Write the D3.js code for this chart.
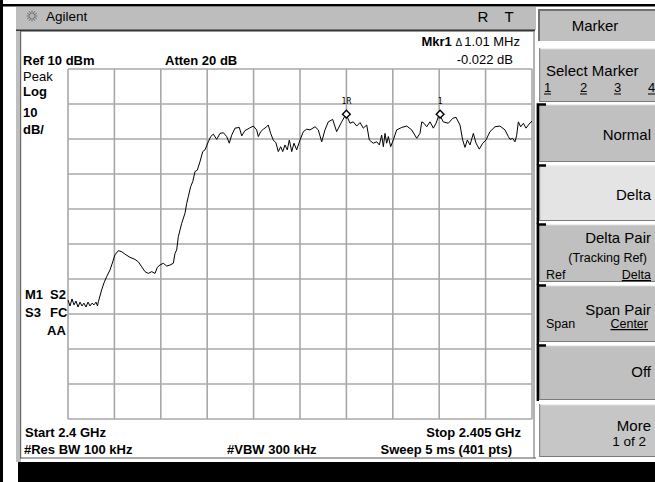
<!DOCTYPE html>
<html>
<head>
<meta charset="utf-8">
<script src="https://cdn.jsdelivr.net/npm/d3@7"></script>
<style>
body { margin: 0; background: #fff; }
text { font-family: "Liberation Sans", Arial, sans-serif; fill: #000; }
</style>
</head>
<body>
<script>
// trace: offset from start (kHz) and level (dBm)
const freqKHz = [0,22,43,65,86,108,129,151,172,194,216,237,259,280,302,318,
  327,363,388,417,453,482,506,542,579,614,668,722,758,794,830,865,902,938,962,991,1027,1064,1099,1135,
  1153,1171,1189,1207,1225,1261,1279,1296,1322,1344,1369,1393,1422,1452,1476,1512,1538,1566,1602,1638,
  1674,1710,1738,1764,1800,1846,1872,1907,1954,1997,2033,2051,2077,2105,2141,2158,2184,2212,2241,2266,
  2292,2314,2338,2363,2385,2411,2435,2464,2500,2536,2572,2608,2662,2697,2734,2769,2805,2852,2895,2949,
  2996,3039,3074,3111,3147,3182,3219,3247,3290,3327,3355,3380,3398,3416,3434,3452,3477,3505,3542,3596,
  3650,3704,3758,3793,3812,3836,3865,3901,3937,3966,4001,4044,4098,4146,4181,4224,4253,4278,4303,4332,
  4368,4397,4432,4469,4504,4547,4601,4655,4709,4745,4763,4792,4817,4835,4853,4878,4907,4936,4961,4989,5000]
const levelDbm = [-56.0,-57.7,-55.7,-57.4,-56.3,-58.0,-56.6,-57.7,-56.9,-58.0,-56.6,-57.7,-56.9,-57.4,-56.6,-57.7,
  -56.5,-53.1,-51.1,-49.3,-47.4,-45.1,-43.1,-41.9,-42.2,-42.9,-43.8,-44.4,-45.1,-46.5,-47.9,-48.4,-47.9,-48.4,-46.7,-46.0,-45.5,-46.3,-46.0,-45.5,
  -42.7,-41.7,-37.9,-36.0,-34.1,-31.2,-28.4,-26.5,-23.6,-22.2,-19.3,-18.9,-16.5,-13.6,-13.1,-10.8,-9.3,-8.6,-10.1,-8.4,
  -8.2,-9.3,-11.2,-8.9,-6.9,-6.7,-9.1,-7.6,-6.9,-6.3,-7.4,-9.3,-7.9,-7.2,-6.5,-6.0,-8.4,-10.3,-11.1,-13.6,
  -12.2,-13.6,-11.7,-13.1,-10.3,-13.6,-11.2,-13.1,-10.3,-7.9,-7.2,-7.4,-6.5,-7.4,-10.8,-7.4,-5.1,-4.4,-7.9,-5.1,
  -2.9,-5.5,-5.1,-6.3,-5.3,-6.9,-6.0,-10.3,-11.2,-10.8,-11.7,-8.9,-12.2,-8.4,-11.2,-9.3,-12.2,-10.3,-7.4,-6.7,
  -6.3,-7.4,-9.8,-8.4,-5.1,-5.5,-6.5,-5.1,-6.9,-5.5,-2.9,-5.1,-5.5,-4.1,-3.8,-6.0,-10.3,-12.4,-10.3,-11.7,
  -8.4,-11.2,-12.9,-11.2,-10.3,-7.9,-6.5,-6.3,-7.4,-9.3,-10.1,-9.8,-10.8,-8.9,-5.1,-6.5,-5.5,-6.9,-6.0,-5.1,-5.0]

const xTicks = d3.range(0, 5001, 500)      // 0.5 MHz / div
const yTicks = d3.range(10, -91, -10)      // 10 dB / div
const markerLabels = ["1R", "1"]
const markerFreq = [3000, 4010]
const markerLevel = [-2.9, -2.9]

const width = 655, height = 482

var svg = d3.select("body").append("svg")
    .attr("width", width)
    .attr("height", height)

var x = d3.scaleLinear().domain([0, 5000]).range([68, 532])
var y = d3.scaleLinear().domain([10, -90]).range([69, 419])

// ---- frame ----
svg.append("rect").attr("x", 0).attr("y", 0).attr("width", 3).attr("height", height).attr("fill", "#000")
svg.append("rect").attr("x", 0).attr("y", 4).attr("width", width).attr("height", 2.5).attr("fill", "#000")
svg.append("rect").attr("x", 16).attr("y", 7).attr("width", 520).attr("height", 23).attr("fill", "#bdbdbd")
svg.append("rect").attr("x", 16).attr("y", 29.5).attr("width", 519).attr("height", 2).attr("fill", "#333")
svg.append("rect").attr("x", 16).attr("y", 31).attr("width", 5).attr("height", 431).attr("fill", "#bdbdbd")
svg.append("rect").attr("x", 20).attr("y", 31).attr("width", 1.2).attr("height", 427).attr("fill", "#666")
svg.append("line").attr("x1", 534).attr("x2", 534).attr("y1", 31).attr("y2", 458)
    .attr("stroke", "#9a9a9a").attr("stroke-width", 1.5)
svg.append("line").attr("x1", 20).attr("x2", 536).attr("y1", 458).attr("y2", 458)
    .attr("stroke", "#555").attr("stroke-width", 1)
svg.append("rect").attr("x", 18).attr("y", 462).attr("width", width - 18).attr("height", 20).attr("fill", "#000")

// agilent spark
var spark = svg.append("g").attr("transform", "translate(32,16)")
d3.range(0, 360, 30).forEach(function (a) {
    var r = a * Math.PI / 180
    spark.append("line")
        .attr("x1", 2 * Math.cos(r)).attr("y1", 2 * Math.sin(r))
        .attr("x2", 5.5 * Math.cos(r)).attr("y2", 5.5 * Math.sin(r))
        .attr("stroke", "#555").attr("stroke-width", 0.8)
})

function label(px, py, str, size, weight, anchor) {
    return svg.append("text")
        .attr("x", px).attr("y", py)
        .attr("font-size", size)
        .attr("font-weight", weight || "normal")
        .attr("text-anchor", anchor || "start")
        .text(str)
}

label(46, 21, "Agilent", 13.5)
label(483, 22, "R", 15, "normal", "middle")
label(509, 22, "T", 15, "normal", "middle")

// ---- grid ----
svg.append("g").selectAll("line").data(xTicks).join("line")
    .attr("x1", d => x(d)).attr("x2", d => x(d))
    .attr("y1", y(10)).attr("y2", y(-90))
    .attr("stroke", "#a8a8a8").attr("stroke-width", 1.6)
svg.append("g").selectAll("line").data(yTicks).join("line")
    .attr("x1", x(0)).attr("x2", x(5000))
    .attr("y1", d => y(d)).attr("y2", d => y(d))
    .attr("stroke", "#a8a8a8").attr("stroke-width", 1.6)

// ---- trace ----
var data = freqKHz.map((f, i) => ({ f: f, l: levelDbm[i] }))
var line = d3.line()
    .x(d => x(d.f))
    .y(d => y(d.l))
svg.append("path")
    .attr("d", line(data))
    .attr("fill", "none")
    .attr("stroke", "#000")
    .attr("stroke-width", 1)

// markers
markerFreq.forEach(function (f, i) {
    svg.append("path")
        .attr("d", d3.symbol().type(d3.symbolSquare).size(30)())
        .attr("transform", "translate(" + x(f) + "," + y(markerLevel[i]) + ") rotate(45)")
        .attr("fill", "#fff").attr("stroke", "#000").attr("stroke-width", 1.4)
    svg.append("text")
        .attr("x", x(f)).attr("y", y(markerLevel[i]) - 10)
        .attr("text-anchor", "middle")
        .attr("font-size", 8)
        .style("font-family", "DejaVu Sans Mono, monospace")
        .text(markerLabels[i])
})

// ---- annotations ----
label(23, 65, "Ref 10 dBm", 13, "bold")
label(165, 65, "Atten 20 dB", 13, "bold")
label(23, 81, "Peak", 13)
label(23, 96, "Log", 13, "bold")
label(23, 117, "10", 13, "bold")
label(23, 134, "dB/", 13, "bold")
label(25, 299, "M1", 13, "bold")
label(50, 299, "S2", 13, "bold")
label(25, 317, "S3", 13, "bold")
label(50, 317, "FC", 13, "bold")
label(47, 335, "AA", 13, "bold")

var mk = svg.append("text").attr("x", 520).attr("y", 46).attr("text-anchor", "end").attr("font-size", 13)
mk.append("tspan").attr("font-weight", "bold").text("Mkr1 ")
mk.append("tspan").attr("font-size", 10).text("\u0394 ")
mk.append("tspan").text(" 1.01 MHz")
label(513, 64, "-0.022 dB", 13, "normal", "end")

label(25, 437, "Start 2.4 GHz", 13, "bold")
label(521, 437, "Stop 2.405 GHz", 13, "bold", "end")
label(24, 454, "#Res BW 100 kHz", 13, "bold")
label(227, 454, "#VBW 300 kHz", 13, "bold")
label(512, 454, "Sweep 5 ms (401 pts)", 13, "bold", "end")

// ---- softkeys ----
var keyTop = [48, 104, 165, 224, 285, 345, 404]
var keyBot = [102, 162, 221, 282, 342, 400, 457]
var keyFill = ["#c0c0c0", "#c0c0c0", "#e4e4e4", "#c0c0c0", "#c0c0c0", "#c0c0c0", "#c6c6c6"]
var keyBracket = [false, true, true, true, true, true, false]

// title box
svg.append("rect").attr("x", 538).attr("y", 9).attr("width", 117).attr("height", 32).attr("fill", "#c0c0c0")
svg.append("path").attr("d", "M539,41 V10 H655").attr("fill", "none").attr("stroke", "#707070").attr("stroke-width", 2)
label(595, 31, "Marker", 15, "normal", "middle")

keyTop.forEach(function (t, i) {
    svg.append("rect").attr("x", 539).attr("y", t).attr("width", 116).attr("height", keyBot[i] - t)
        .attr("fill", keyFill[i])
    svg.append("line").attr("x1", 539).attr("x2", 655).attr("y1", keyBot[i] - 0.5).attr("y2", keyBot[i] - 0.5)
        .attr("stroke", "#7a7a7a").attr("stroke-width", 1.2)
    svg.append("line").attr("x1", 540).attr("x2", 655).attr("y1", t + 0.7).attr("y2", t + 0.7)
        .attr("stroke", "#efefef").attr("stroke-width", 1.2)
    svg.append("line").attr("x1", 539.6).attr("x2", 539.6).attr("y1", t).attr("y2", keyBot[i])
        .attr("stroke", "#8a8a8a").attr("stroke-width", 1.2)
    if (keyBracket[i]) {
        var next = keyBracket[i + 1] ? keyTop[i + 1] : keyBot[i] + 1
        svg.append("path")
            .attr("d", "M546," + (t + 0.5) + " H537.8 V" + next)
            .attr("fill", "none").attr("stroke", "#000").attr("stroke-width", 2.4)
    }
})

label(546, 76, "Select Marker", 15)
;["1", "2", "3", "4"].forEach(function (s, i) {
    var px = [544, 580, 614, 648][i]
    label(px, 92, s, 13)
    svg.append("line").attr("x1", px).attr("x2", px + 7).attr("y1", 94).attr("y2", 94)
        .attr("stroke", "#000").attr("stroke-width", 1)
})
label(651, 140, "Normal", 15, "normal", "end")
label(651, 200, "Delta", 15, "normal", "end")
label(651, 243, "Delta Pair", 15, "normal", "end")
label(647, 262, "(Tracking Ref)", 12.5, "normal", "end")
label(546, 279, "Ref", 12.5)
label(651, 279, "Delta", 12.5, "normal", "end").attr("text-decoration", "underline")
label(651, 315, "Span Pair", 15, "normal", "end")
label(546, 328, "Span", 12.5)
label(648, 328, "Center", 12.5, "normal", "end").attr("text-decoration", "underline")
label(651, 377, "Off", 15, "normal", "end")
label(651, 431, "More", 15, "normal", "end")
label(646, 446, "1 of 2", 13.5, "normal", "end")
</script>
</body>
</html>
